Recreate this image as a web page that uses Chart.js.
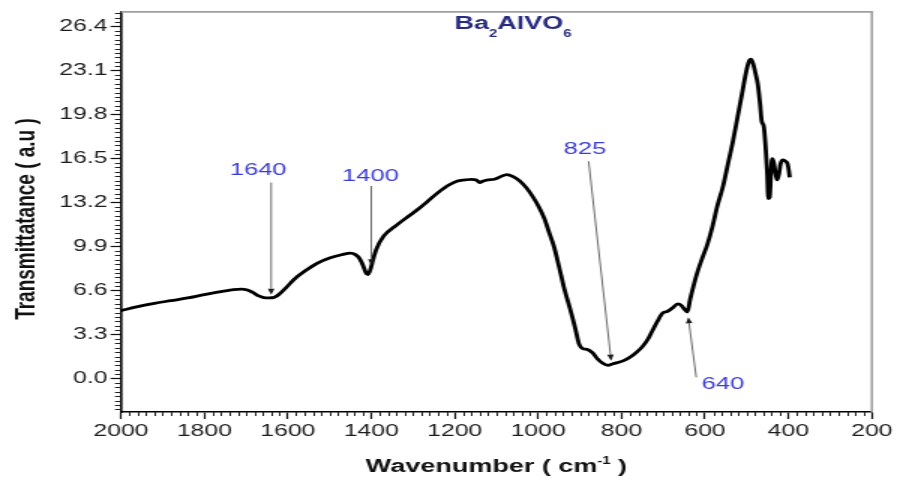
<!DOCTYPE html>
<html>
<head>
<meta charset="utf-8">
<script src="https://cdn.jsdelivr.net/npm/chart.js@4.4.1/dist/chart.umd.min.js"></script>
<style>
  html, body { margin: 0; padding: 0; background: #fff; overflow: hidden; }
  /* the figure is laid out on a 598px-wide canvas and widened to the page */
  #frame { width: 598px; height: 480px; transform: scaleX(1.5); transform-origin: 0 0; }
</style>
</head>
<body>
<div id="frame"><canvas id="ir" width="598" height="480"></canvas></div>
<script>
// FTIR spectrum of Ba2AlVO6
const wavenumbers = [
  2000, 1960, 1920, 1880, 1840, 1800, 1765, 1735, 1712, 1697,
  1683, 1670, 1658, 1645, 1632, 1620, 1605, 1585, 1560, 1530,
  1500, 1470, 1450, 1438, 1428, 1420, 1413, 1408, 1402, 1396,
  1388, 1370, 1340, 1310, 1288, 1265, 1240, 1215, 1195, 1175,
  1160, 1148, 1140, 1133, 1120, 1105, 1090, 1075, 1060, 1045,
  1028, 1012, 997, 985, 973, 962, 950, 937, 924, 912,
  902, 893, 883, 870, 858, 845, 833, 822, 810, 795,
  780, 765, 750, 737, 726, 714, 702, 690, 678, 665,
  657, 649, 642, 636, 628, 619, 607, 595, 583, 570,
  557, 545, 533, 522, 511, 502, 495, 490, 485, 479,
  473, 468, 464, 459, 455, 451, 448, 445, 442, 439,
  435, 431, 427, 423, 419, 413, 407, 402, 399, 397
];
const transmittance = [
  5.1, 5.4, 5.65, 5.85, 6.05, 6.3, 6.5, 6.65, 6.72, 6.65,
  6.45, 6.2, 6.08, 6.05, 6.1, 6.35, 6.8, 7.45, 8.05, 8.65,
  9.05, 9.3, 9.42, 9.3, 9.0, 8.5, 7.95, 7.8, 8.2, 8.9,
  9.7, 10.7, 11.5, 12.2, 12.7, 13.3, 13.95, 14.5, 14.8, 14.9,
  14.95, 14.9, 14.7, 14.8, 14.9, 14.95, 15.15, 15.3, 15.15, 14.85,
  14.3, 13.6, 12.8, 12.0, 10.9, 9.9, 8.4, 6.7, 5.3, 3.9,
  2.6, 2.25, 2.2, 1.95, 1.5, 1.15, 1.0, 1.1, 1.2, 1.35,
  1.6, 1.95, 2.4, 2.95, 3.6, 4.3, 4.9, 5.05, 5.3, 5.6,
  5.5, 5.2, 5.0, 5.9, 6.9, 7.9, 9.0, 10.0, 11.3, 13.0,
  14.4, 16.1, 17.8, 19.6, 21.4, 22.9, 23.75, 23.95, 23.65, 22.9,
  22.0, 20.6, 19.3, 18.9, 17.5, 15.5, 13.5, 13.6, 15.3, 16.5,
  16.2, 15.4, 14.9, 15.3, 16.1, 16.4, 16.3, 16.1, 15.6, 15.1
];

const xTicks = [2000, 1800, 1600, 1400, 1200, 1000, 800, 600, 400, 200];
const yTicks = [0, 3.3, 6.6, 9.9, 13.2, 16.5, 19.8, 23.1, 26.4];

// band assignments: label, band position, arrow tip height, arrow tail, label anchor
const peakLabels = ['1640', '1400', '825', '640'];
const peakPositions = [1640, 1400, 825, 640];
const arrowTips = [6.3, 8.5, 1.35, 4.6];
const arrowTails = [[1640, 14.7], [1400, 14.45], [879, 16.3], [621, 0.1]];
const labelAnchors = [[1671, 15.6], [1402, 15.2], [888, 17.2], [557, -0.43]];

const FONT = '"Liberation Sans", Arial, Helvetica, sans-serif';

// small ruler ticks between the labelled ones, plus the grey box edges
const minorTicks = {
  id: 'minorTicks',
  afterDraw(chart) {
    const { ctx, chartArea: a, scales: { x, y } } = chart;
    ctx.save();
    ctx.strokeStyle = '#222';
    ctx.lineWidth = 1;
    ctx.beginPath();
    for (let v = 220; v < 2000; v += 20) {
      if (v % 200 === 0) continue;
      const px = Math.round(x.getPixelForValue(v)) + 0.5;
      ctx.moveTo(px, a.bottom);
      ctx.lineTo(px, a.bottom + 4);
    }
    for (let k = -7; k <= 83; k++) {
      if (k % 10 === 0) continue;
      const py = Math.round(y.getPixelForValue(k * 0.33)) + 0.5;
      if (py < a.top || py > a.bottom) continue;
      ctx.moveTo(a.left, py);
      ctx.lineTo(a.left - 4, py);
    }
    ctx.stroke();
    ctx.strokeStyle = '#a0a0a0';
    ctx.lineWidth = 1.6;
    ctx.beginPath();
    ctx.moveTo(a.left, a.top);
    ctx.lineTo(a.right, a.top);
    ctx.lineTo(a.right, a.bottom);
    ctx.stroke();
    ctx.restore();
  }
};

// arrows pointing at the assigned bands
const peakMarks = {
  id: 'peakMarks',
  afterDatasetsDraw(chart) {
    const { ctx, scales: { x, y } } = chart;
    ctx.save();
    peakLabels.forEach((t, i) => {
      const tx = x.getPixelForValue(arrowTails[i][0]);
      const ty = y.getPixelForValue(arrowTails[i][1]);
      const hx = x.getPixelForValue(peakPositions[i]);
      const hy = y.getPixelForValue(arrowTips[i]);
      const ang = Math.atan2(hy - ty, hx - tx);
      const L = 6, W = 2.2;
      const bx = hx - L * Math.cos(ang), by = hy - L * Math.sin(ang);
      ctx.strokeStyle = '#6a6a6a';
      ctx.lineWidth = 1;
      ctx.beginPath();
      ctx.moveTo(tx, ty);
      ctx.lineTo(bx, by);
      ctx.stroke();
      ctx.fillStyle = '#1a1a1a';
      ctx.beginPath();
      ctx.moveTo(hx, hy);
      ctx.lineTo(bx + W * Math.sin(ang), by - W * Math.cos(ang));
      ctx.lineTo(bx - W * Math.sin(ang), by + W * Math.cos(ang));
      ctx.closePath();
      ctx.fill();
      ctx.fillStyle = '#3b3bd6';
      ctx.font = '17px ' + FONT;
      ctx.textAlign = 'center';
      ctx.textBaseline = 'middle';
      ctx.fillText(t, x.getPixelForValue(labelAnchors[i][0]), y.getPixelForValue(labelAnchors[i][1]));
    });
    ctx.restore();
  }
};

// compound name and axis titles (with sub/superscripts)
const titles = {
  id: 'titles',
  afterDraw(chart) {
    const { ctx, chartArea: a } = chart;
    ctx.save();
    ctx.textAlign = 'left';
    ctx.textBaseline = 'alphabetic';
    const parts = [['Ba', 0, 18], ['2', 8, 10], ['AlVO', 0, 18], ['6', 8, 10]];
    let cx = 303;
    ctx.fillStyle = '#272b7e';
    parts.forEach(([s, dy, sz]) => {
      ctx.font = 'bold ' + sz + 'px ' + FONT;
      ctx.fillText(s, cx, 29 + dy);
      cx += ctx.measureText(s).width;
    });

    ctx.fillStyle = '#111';
    const main = 'Wavenumber ( cm', sup = '-1', tail = ' )';
    ctx.font = 'bold 18px ' + FONT;
    const w1 = ctx.measureText(main).width, w3 = ctx.measureText(tail).width;
    ctx.font = 'bold 10px ' + FONT;
    const w2 = ctx.measureText(sup).width;
    const sx = (a.left + a.right) / 2 - (w1 + w2 + w3) / 2;
    const base = 472;
    ctx.font = 'bold 18px ' + FONT;
    ctx.fillText(main, sx, base);
    ctx.font = 'bold 10px ' + FONT;
    ctx.fillText(sup, sx + w1, base - 8);
    ctx.font = 'bold 18px ' + FONT;
    ctx.fillText(tail, sx + w1 + w2, base);

    ctx.translate(17.8, 219);
    ctx.rotate(-Math.PI / 2);
    ctx.textAlign = 'center';
    ctx.textBaseline = 'middle';
    ctx.font = 'bold 19px ' + FONT;
    ctx.fillText('Transmittatance ( a.u )', 0, 0);
    ctx.restore();
  }
};

new Chart(document.getElementById('ir'), {
  type: 'line',
  data: {
    datasets: [{
      data: wavenumbers.map((w, i) => ({ x: w, y: transmittance[i] })),
      borderColor: '#000',
      borderWidth: 2.8,
      pointRadius: 0,
      fill: false,
      cubicInterpolationMode: 'monotone'
    }]
  },
  options: {
    responsive: false,
    animation: false,
    devicePixelRatio: 1,
    layout: { padding: { left: 0, right: 13.33, top: 7, bottom: 0 } },
    plugins: { legend: { display: false }, tooltip: { enabled: false }, title: { display: false } },
    scales: {
      x: {
        type: 'linear',
        reverse: true,
        min: 200,
        max: 2000,
        afterBuildTicks: s => { s.ticks = xTicks.map(v => ({ value: v })); },
        afterFit: s => { s.height = 68; },
        grid: { drawOnChartArea: false, drawTicks: true, tickLength: 7, tickColor: '#111', tickWidth: 1.2 },
        border: { display: true, color: '#000', width: 1.6 },
        ticks: { color: '#1c1c1c', font: { family: FONT, size: 16.5 }, padding: 3, maxRotation: 0, autoSkip: false,
                 callback: v => String(v) }
      },
      y: {
        min: -2.5,
        max: 27.5,
        afterBuildTicks: s => { s.ticks = yTicks.map(v => ({ value: v })); },
        afterFit: s => { s.width = 80.67; },
        grid: { drawOnChartArea: false, drawTicks: true, tickLength: 7, tickColor: '#111', tickWidth: 1.2 },
        border: { display: true, color: '#000', width: 1.6 },
        ticks: { color: '#1c1c1c', font: { family: FONT, size: 16.5 }, padding: 2, callback: v => Number(v).toFixed(1) }
      }
    }
  },
  plugins: [minorTicks, peakMarks, titles]
});
</script>
</body>
</html>
